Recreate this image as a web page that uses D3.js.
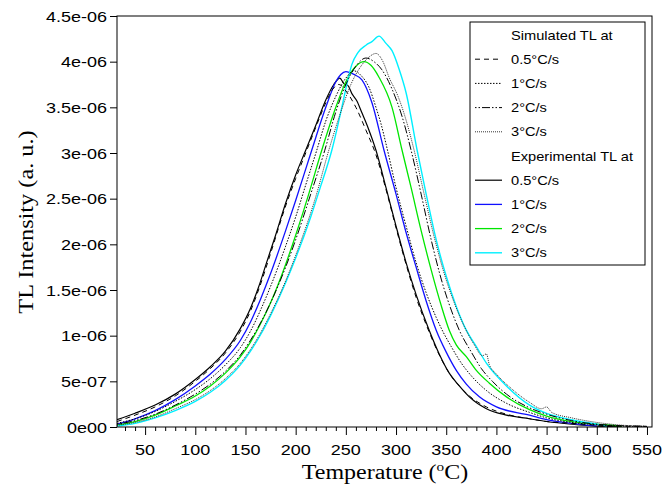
<!DOCTYPE html>
<html><head><meta charset="utf-8">
<script src="https://cdn.jsdelivr.net/npm/d3@7/dist/d3.min.js"></script>
<style>html,body{margin:0;padding:0;background:#fff}svg{display:block}</style>
</head><body><svg id="c" width="662" height="493"></svg>
<script>
// ---------------- data (intensity in units of 1e-6 a.u.) ----------------
const UNIT = 1e-6;
const xTickValues = [50, 100, 150, 200, 250, 300, 350, 400, 450, 500, 550];
const yTickValues = [0, 0.5, 1, 1.5, 2, 2.5, 3, 3.5, 4, 4.5];
const yTickLabels = ["0e00", "5e-07", "1e-06", "1.5e-06", "2e-06", "2.5e-06", "3e-06", "3.5e-06", "4e-06", "4.5e-06"];
const rateLabels = ["0.5°C/s", "1°C/s", "2°C/s", "3°C/s"];

const simHalf = [[22,0.06],[40,0.13],[60,0.22],[80,0.34],[100,0.5],[115,0.64],[130,0.81],[145,1.05],[155,1.27],[163,1.5],[175,1.9],[190,2.42],[200,2.72],[210,3.0],[220,3.28],[230,3.55],[237,3.7],[243,3.75],[250,3.68],[260,3.5],[270,3.25],[280,2.98],[290,2.6],[300,2.18],[310,1.78],[320,1.42],[333,1.04],[343,0.79],[353,0.59],[363,0.45],[373,0.34],[390,0.22],[410,0.14],[433,0.09],[450,0.06],[475,0.04],[500,0.02],[525,0.01],[550,0.005]];
const simOne = [[22,0.04],[40,0.09],[60,0.17],[80,0.28],[100,0.41],[115,0.53],[130,0.68],[145,0.87],[155,1.05],[165,1.28],[175,1.54],[190,1.98],[200,2.3],[210,2.65],[221,3.03],[230,3.35],[240,3.62],[250,3.82],[258,3.9],[265,3.85],[273,3.72],[280,3.5],[285,3.32],[290,3.1],[300,2.62],[310,2.2],[320,1.8],[330,1.47],[340,1.2],[346,1.06],[355,0.88],[365,0.7],[375,0.56],[390,0.4],[410,0.26],[433,0.16],[450,0.1],[475,0.05],[500,0.025],[525,0.01],[550,0.005]];
const simTwo = [[22,0.03],[40,0.07],[60,0.14],[80,0.24],[100,0.36],[115,0.47],[130,0.61],[145,0.79],[155,0.95],[165,1.14],[175,1.36],[190,1.75],[200,2.05],[215,2.55],[229,3.03],[240,3.45],[250,3.75],[260,3.95],[270,4.04],[278,4.0],[286,3.91],[296,3.7],[306,3.4],[315,3.03],[325,2.55],[335,2.05],[345,1.62],[355,1.28],[363,1.06],[375,0.82],[385,0.64],[396,0.5],[410,0.36],[433,0.21],[450,0.14],[475,0.07],[500,0.03],[525,0.015],[550,0.008]];
const simThree = [[22,0.02],[40,0.05],[60,0.11],[80,0.2],[100,0.3],[115,0.4],[130,0.53],[145,0.7],[155,0.85],[165,1.03],[175,1.24],[190,1.6],[200,1.88],[220,2.52],[233,3.03],[245,3.45],[255,3.75],[265,3.95],[273,4.05],[280,4.09],[287,4.0],[293,3.83],[302,3.62],[310,3.36],[318,3.03],[328,2.55],[338,2.08],[348,1.68],[358,1.36],[368,1.1],[378,0.9],[386,0.78],[390,0.8],[393,0.68],[400,0.58],[415,0.42],[433,0.27],[445,0.2],[450,0.22],[455,0.16],[475,0.1],[500,0.05],[525,0.02],[550,0.01]];

const expHalf = [[22,0.08],[40,0.15],[60,0.24],[80,0.36],[100,0.52],[115,0.66],[130,0.83],[145,1.08],[155,1.3],[163,1.53],[171,1.8],[180,2.1],[190,2.45],[200,2.76],[210,3.03],[220,3.3],[230,3.58],[238,3.75],[244,3.82],[248,3.76],[252,3.74],[256,3.65],[261,3.57],[266,3.44],[272,3.28],[280,3.03],[290,2.62],[300,2.2],[310,1.8],[320,1.45],[333,1.06],[343,0.8],[353,0.59],[363,0.45],[373,0.33],[390,0.2],[410,0.13],[433,0.09],[450,0.06],[475,0.03],[500,0.01],[525,0.005]];
const expOne = [[22,0.03],[40,0.09],[60,0.18],[80,0.3],[100,0.45],[115,0.58],[130,0.74],[145,0.95],[155,1.15],[165,1.4],[175,1.68],[190,2.15],[200,2.48],[216,3.03],[230,3.5],[240,3.78],[245,3.86],[250,3.89],[258,3.86],[266,3.8],[276,3.55],[288,3.03],[300,2.55],[310,2.13],[320,1.75],[330,1.38],[340,1.06],[350,0.82],[360,0.62],[370,0.47],[383,0.33],[400,0.22],[433,0.13],[450,0.08],[475,0.04],[500,0.01]];
const expTwo = [[22,0.02],[40,0.06],[60,0.13],[80,0.23],[100,0.34],[115,0.45],[130,0.59],[145,0.77],[155,0.93],[165,1.13],[175,1.36],[190,1.78],[200,2.1],[213,2.55],[226,3.03],[240,3.5],[250,3.78],[260,3.95],[268,4.0],[275,3.96],[283,3.83],[296,3.5],[306,3.03],[315,2.62],[325,2.15],[335,1.72],[345,1.33],[353,1.06],[360,0.9],[370,0.77],[380,0.62],[393,0.48],[410,0.33],[433,0.19],[450,0.12],[475,0.06],[500,0.03],[525,0.01]];
const expThree = [[22,0.01],[40,0.04],[60,0.1],[80,0.18],[100,0.28],[115,0.38],[130,0.51],[145,0.68],[155,0.83],[165,1.01],[175,1.22],[190,1.58],[200,1.85],[215,2.3],[225,2.64],[236,3.03],[246,3.5],[252,3.8],[256,3.97],[262,4.1],[270,4.18],[276,4.22],[283,4.28],[290,4.2],[296,4.12],[303,3.92],[310,3.66],[321,3.03],[330,2.55],[340,2.05],[350,1.65],[360,1.32],[370,1.06],[380,0.88],[390,0.7],[410,0.45],[433,0.24],[450,0.15],[475,0.08],[500,0.03],[510,0.01]];

// ---------------- layout / styles ----------------
const svg = d3.select("#c");
svg.append("rect").attr("width", 662).attr("height", 493).attr("fill", "#fff");
const L = 117, R = 652, T = 16, B = 427;
const x = d3.scaleLinear().domain([22, 555]).range([L, R]);
const y = d3.scaleLinear().domain([0, 4.5]).range([B, T]);
const SANS = "'Liberation Sans', Arial, sans-serif";
const SERIF = "'Liberation Serif', 'Times New Roman', serif";
const SX = 1.2;

const simStyles = [
  {stroke: "#000", dash: "5,4", w: 1},
  {stroke: "#000", dash: "1.5,1.5", w: 1},
  {stroke: "#000", dash: "1.5,2,1.5,2,8,2", w: 1},
  {stroke: "#333", dash: "1,1", w: 1}
];
const expStyles = [
  {stroke: "#000", w: 1.2},
  {stroke: "#1010ff", w: 1.3},
  {stroke: "#00e600", w: 1.3},
  {stroke: "#00f0ff", w: 1.4}
];

const line = d3.line().x(d => x(d[0])).y(d => y(d[1])).curve(d3.curveMonotoneX);
svg.append("clipPath").attr("id", "clip").append("rect")
  .attr("x", L).attr("y", T).attr("width", R - L).attr("height", B - T);
const g = svg.append("g").attr("clip-path", "url(#clip)");

[expHalf, expOne, expTwo, expThree].forEach((s, i) => {
  g.append("path").attr("d", line(s)).attr("fill", "none")
    .attr("stroke", expStyles[i].stroke).attr("stroke-width", expStyles[i].w);
});
[simHalf, simOne, simTwo, simThree].forEach((s, i) => {
  g.append("path").attr("d", line(s)).attr("fill", "none")
    .attr("stroke", simStyles[i].stroke).attr("stroke-width", simStyles[i].w)
    .attr("stroke-dasharray", simStyles[i].dash);
});

// frame
svg.append("rect").attr("x", L).attr("y", T).attr("width", R - L).attr("height", B - T)
  .attr("fill", "none").attr("stroke", "#000").attr("stroke-width", 1);

// x axis
const xAxis = d3.axisBottom(x).tickValues(xTickValues).tickSize(8).tickSizeOuter(0).tickFormat("");
const gx = svg.append("g").attr("transform", `translate(0,${B})`).call(xAxis);
gx.select(".domain").remove();
const xMinorAxis = d3.axisBottom(x).tickValues(d3.range(30, 551, 10).filter(v => v % 50 !== 0)).tickSize(4).tickSizeOuter(0).tickFormat("");
const gxm = svg.append("g").attr("transform", `translate(0,${B})`).call(xMinorAxis);
gxm.select(".domain").remove();
xTickValues.forEach(v => {
  svg.append("text").attr("transform", `translate(${x(v)},455) scale(${SX},1)`)
    .attr("text-anchor", "middle").attr("font-family", SANS).attr("font-size", 15).text(v);
});

// y axis
const yAxis = d3.axisLeft(y).tickValues(yTickValues).tickSize(7).tickSizeOuter(0).tickFormat("");
const gy = svg.append("g").attr("transform", `translate(${L},0)`).call(yAxis);
gy.select(".domain").remove();
yTickValues.forEach((v, i) => {
  svg.append("text").attr("transform", `translate(107,${y(v) + 5.5}) scale(${SX},1)`)
    .attr("text-anchor", "end").attr("font-family", SANS).attr("font-size", 15).text(yTickLabels[i]);
});

// axis titles
const xt = svg.append("text").attr("transform", `translate(385,479) scale(1.17,1)`)
  .attr("text-anchor", "middle").attr("font-family", SERIF).attr("font-size", 20.5);
xt.append("tspan").text("Temperature (");
xt.append("tspan").attr("font-size", 13).attr("dy", -8).text("o");
xt.append("tspan").attr("dy", 8).text("C)");
svg.append("text").attr("transform", `translate(33,222) rotate(-90) scale(1.13,1)`)
  .attr("text-anchor", "middle").attr("font-family", SERIF).attr("font-size", 21.5)
  .text("TL Intensity (a. u.)");

// legend
const lg = svg.append("g");
lg.append("rect").attr("x", 470).attr("y", 22).attr("width", 175).attr("height", 243)
  .attr("fill", "#fff").attr("stroke", "#000").attr("stroke-width", 1);
const rowY = i => 35 + i * 24.2;
function legText(txt, i) {
  lg.append("text").attr("transform", `translate(511,${rowY(i) + 4.5}) scale(1.22,1)`)
    .attr("font-family", SANS).attr("font-size", 12).text(txt);
}
legText("Simulated TL at", 0);
rateLabels.forEach((r, k) => {
  const i = k + 1;
  lg.append("line").attr("x1", 475).attr("x2", 502).attr("y1", rowY(i)).attr("y2", rowY(i))
    .attr("stroke", simStyles[k].stroke).attr("stroke-width", simStyles[k].w)
    .attr("stroke-dasharray", simStyles[k].dash);
  legText(r, i);
});
legText("Experimental TL at", 5);
rateLabels.forEach((r, k) => {
  const i = k + 6;
  lg.append("line").attr("x1", 475).attr("x2", 502).attr("y1", rowY(i)).attr("y2", rowY(i))
    .attr("stroke", expStyles[k].stroke).attr("stroke-width", expStyles[k].w);
  legText(r, i);
});
</script></body></html>
